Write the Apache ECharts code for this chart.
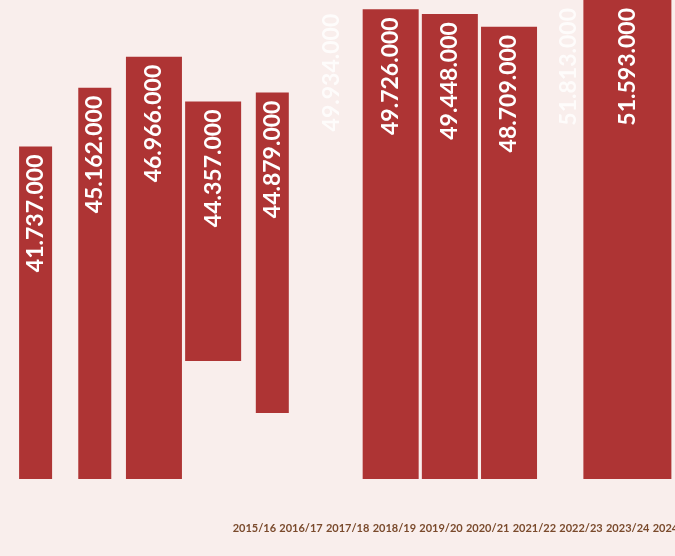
<!DOCTYPE html>
<html><head><meta charset="utf-8">
<script src="https://cdn.jsdelivr.net/npm/echarts@6/dist/echarts.min.js"></script>
<style>html,body{margin:0;padding:0;background:#f9eeec}#c{width:675px;height:556px}</style>
</head><body><div id="c"></div>
<script>
// Season labels (bottom axis)
const seasons = ['2015/16','2016/17','2017/18','2018/19','2019/20','2020/21','2021/22','2022/23','2023/24','2024/25'];
// Bar slots (hidden axis); the last one is empty room on the right
const slots = ['s1','s2','s3','s4','s5','s6','s7','s8','s9','s10','s11','s12'];
// Narrow bars: top values and (floating) bottoms
const narrowTop  = [41737000, 45162000, null, null, 44879000, null, null, null, null, null, null];
const narrowLow  = [null, null, null, null, 26220000, null, null, null, null, null, null];
// Wide bars: top values and (floating) bottoms
const wideTop    = [null, null, 46966000, 44357000, null, null, 49726000, 49448000, 48709000, null, null];
const wideLow    = [null, null, null, 29250000, null, null, null, null, null, null, null];
// Last wide bar
const endTop     = [null, null, null, null, null, null, null, null, null, null, 51593000];
// Faded labels without bar
const ghostTop   = [null, null, null, null, null, 49934000, null, null, null, 51813000, null];

const Y_MIN = 22370000, Y_MAX = 50270000;
const BAR = '#ae3434';
const SLOT = 59.18;

function fmt(v){ return String(Math.round(v)).replace(/\B(?=(\d{3})+(?!\d))/g,'.'); }

const labelBase = {
  show: true, position: 'insideTop', rotate: 90, align: 'right', verticalAlign: 'middle',
  distance: 8, color: '#ffffff', fontSize: 23, fontWeight: 'bold', fontFamily: 'Lato'
};

const rect = {left: 6, width: SLOT * slots.length, top: 0, height: 479, outerBoundsMode: 'none', containLabel: false};
const grids = [rect, rect, rect, rect,
  {left: 231, width: 466.7, top: 470, height: 47, outerBoundsMode: 'none', containLabel: false}];

const xAxes = [0,1,2,3].map(i => ({type:'category', gridIndex:i, data:slots, show:false}));
xAxes.push({type:'category', gridIndex:4, data:seasons,
  axisLine:{show:false}, axisTick:{show:false},
  axisLabel:{interval:0, margin:6, fontSize:11, fontWeight:'bold', fontFamily:'Lato', color:'#7a4a2c'}});
const yAxes = [0,1,2,3].map(i => ({type:'value', gridIndex:i, min:Y_MIN, max:Y_MAX, show:false}));
yAxes.push({type:'value', gridIndex:4, show:false});

function stackPair(top, low, axis, width, name){
  const base = top.map((v,i) => v==null ? '-' : (low[i]||0));
  const body = top.map((v,i) => v==null ? '-' : v - (low[i]||0));
  return [
    {type:'bar', name:name+'Base', stack:name, xAxisIndex:axis, yAxisIndex:axis, barWidth:width,
     itemStyle:{color:'rgba(0,0,0,0)'}, silent:true, data:base},
    {type:'bar', name:name, stack:name, xAxisIndex:axis, yAxisIndex:axis, barWidth:width,
     itemStyle:{color:BAR},
     label:Object.assign({}, labelBase, {formatter: p => fmt(top[p.dataIndex])}), data:body}
  ];
}

const series = [].concat(
  stackPair(narrowTop, narrowLow, 0, 33, 'narrow'),
  stackPair(wideTop, wideLow, 1, 56, 'wide'),
  [{type:'bar', name:'end', xAxisIndex:2, yAxisIndex:2, barWidth:88, itemStyle:{color:BAR},
    label:Object.assign({}, labelBase, {formatter: p => fmt(endTop[p.dataIndex])}),
    data:endTop.map(v => v==null ? '-' : v)},
   {type:'bar', name:'ghost', xAxisIndex:3, yAxisIndex:3, barWidth:40, itemStyle:{color:'rgba(0,0,0,0)'},
    label:Object.assign({}, labelBase, {color:'rgba(255,255,255,0.8)', formatter: p => fmt(ghostTop[p.dataIndex])}),
    data:ghostTop.map(v => v==null ? '-' : v)}]
);

const chart = echarts.init(document.getElementById('c'), null, {renderer:'canvas'});
chart.setOption({
  backgroundColor:'#f9eeec',
  animation:false,
  grid:grids, xAxis:xAxes, yAxis:yAxes, series:series
});
</script></body></html>
